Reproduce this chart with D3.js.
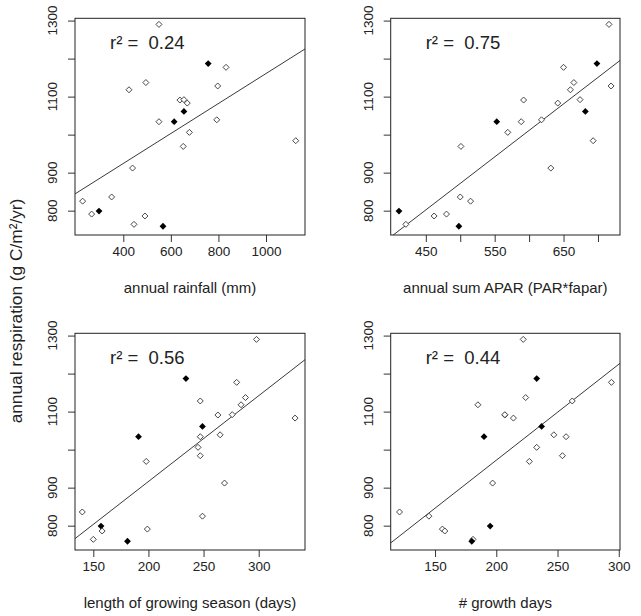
<!DOCTYPE html>
<html>
<head>
<meta charset="utf-8">
<script src="https://cdn.jsdelivr.net/npm/d3@7"></script>
<style>
  body { margin: 0; background: #fff; }
  svg text { font-family: "Liberation Sans", Arial, sans-serif; fill: #222; }
</style>
</head>
<body>
<div id="chart"></div>
<script>
let w = 641;
let h = 616;

// one value per site, same order in every array
let respiration = [825, 791, 799, 836, 1118, 912, 764, 786, 1137, 1290, 1034, 759, 1034, 1091, 969, 1092, 1061, 1083, 1006, 1187, 1039, 1128, 1177, 984];
let filled = [0, 0, 1, 0, 0, 0, 0, 0, 0, 0, 0, 1, 1, 0, 0, 0, 1, 0, 0, 1, 0, 0, 0, 0];
let rainfall = [229, 267, 298, 351, 424, 439, 445, 491, 495, 550, 550, 567, 614, 638, 652, 655, 655, 669, 678, 757, 793, 797, 832, 1125];
let apar = [515, 480, 411, 500, 660, 631.5, 421, 462, 665, 716, 588.5, 498, 553, 592, 501, 674, 681.7, 641.6, 569, 698.5, 618, 719, 650, 693];
let seasonLength = [249, 199, 157, 140, 284, 269, 150, 158, 288, 298, 247, 181, 191, 263, 198, 276, 249, 333, 245, 234, 265, 247, 280, 247];
let growthDays = [145, 156, 195, 121, 185, 197, 181, 158, 224, 222, 257, 180, 190, 207, 227, 207, 237, 214, 233, 233, 247, 262, 294, 254];

let xTitles = ["annual rainfall (mm)", "annual sum APAR (PAR*fapar)", "length of growing season (days)", "# growth days"];
let r2Labels = ["0.24", "0.75", "0.56", "0.44"];
let xTicks = [[400, 600, 800, 1000], [450, 500, 550, 600, 650, 700], [150, 200, 250, 300], [150, 200, 250, 300]];
let xTickLabels = [[400, 600, 800, 1000], [450, 550, 650], [150, 200, 250, 300], [150, 200, 250, 300]];
let yTicks = [800, 900, 1000, 1100, 1200, 1300];
let yTickLabels = [800, 900, 1100, 1300];
let yTitle = "annual respiration (g C/m²/yr)";

let xSeries = [rainfall, apar, seasonLength, growthDays];
let xDomains = [[197, 1164], [399, 732], [133.4, 342], [113.8, 301]];
let yDomain = [736, 1306];

// panel boxes
let boxes = [
  {x0: 75, x1: 305, y0: 18.3, y1: 235},
  {x0: 390.7, x1: 620, y0: 18.3, y1: 235},
  {x0: 75, x1: 305, y0: 333.3, y1: 550},
  {x0: 390.7, x1: 620, y0: 333.3, y1: 550}
];

let viz = d3.select("#chart").append("svg")
  .attr("width", w)
  .attr("height", h);

function fitLine(xs, ys){
  let mx = d3.mean(xs), my = d3.mean(ys);
  let sxy = d3.sum(xs, (x, i) => (x - mx) * (ys[i] - my));
  let sxx = d3.sum(xs, x => (x - mx) * (x - mx));
  let slope = sxy / sxx;
  return {slope: slope, intercept: my - slope * mx};
}

function diamond(r){
  return "M0," + (-r) + "L" + r + ",0L0," + r + "L" + (-r) + ",0Z";
}

boxes.forEach(function(b, p){
  let xs = xSeries[p];
  let xScale = d3.scaleLinear().domain(xDomains[p]).range([b.x0, b.x1]);
  let yScale = d3.scaleLinear().domain(yDomain).range([b.y1, b.y0]);
  let g = viz.append("g").attr("class", "panel" + p);

  g.append("clipPath").attr("id", "clip" + p)
    .append("rect")
      .attr("x", b.x0).attr("y", b.y0)
      .attr("width", b.x1 - b.x0).attr("height", b.y1 - b.y0);

  // x axis
  let xAxis = d3.axisBottom(xScale)
    .tickValues(xTicks[p])
    .tickSize(7)
    .tickPadding(4)
    .tickFormat(d => xTickLabels[p].includes(d) ? d : "");
  let xAxisGroup = g.append("g")
    .attr("transform", "translate(0," + b.y1 + ")")
    .call(xAxis);
  xAxisGroup.select(".domain").remove();
  xAxisGroup.selectAll(".tick line").attr("stroke", "#333");
  xAxisGroup.selectAll(".tick text")
    .attr("font-size", "13.5px")
    .attr("font-family", "Liberation Sans, Arial, sans-serif")
    .attr("fill", "#333");

  // y axis, labels rotated like R
  let yAxis = d3.axisLeft(yScale)
    .tickValues(yTicks)
    .tickSize(7)
    .tickFormat("");
  let yAxisGroup = g.append("g")
    .attr("transform", "translate(" + b.x0 + ",0)")
    .call(yAxis);
  yAxisGroup.select(".domain").remove();
  yAxisGroup.selectAll(".tick line").attr("stroke", "#333");
  g.selectAll(".ylab")
    .data(yTickLabels)
    .enter()
    .append("text")
      .attr("class", "ylab")
      .attr("transform", d => "translate(" + (b.x0 - 18) + "," + yScale(d) + ") rotate(-90)")
      .attr("text-anchor", "middle")
      .attr("font-size", "13.5px")
      .attr("fill", "#333")
      .text(d => d);

  // box
  g.append("rect")
    .attr("x", b.x0).attr("y", b.y0)
    .attr("width", b.x1 - b.x0).attr("height", b.y1 - b.y0)
    .attr("fill", "none")
    .attr("stroke", "#222")
    .attr("stroke-width", 1);

  // regression line
  let fit = fitLine(xs, respiration);
  let lineX = xDomains[p];
  g.append("line")
    .attr("clip-path", "url(#clip" + p + ")")
    .attr("x1", xScale(lineX[0]))
    .attr("y1", yScale(fit.intercept + fit.slope * lineX[0]))
    .attr("x2", xScale(lineX[1]))
    .attr("y2", yScale(fit.intercept + fit.slope * lineX[1]))
    .attr("stroke", "#222")
    .attr("stroke-width", 0.9);

  // points
  let pts = xs.map((x, i) => ({x: x, y: respiration[i], f: filled[i]}));
  g.selectAll(".pt")
    .data(pts)
    .enter()
    .append("path")
      .attr("class", "pt")
      .attr("transform", d => "translate(" + xScale(d.x) + "," + yScale(d.y) + ")")
      .attr("d", d => d.f ? diamond(3.4) : diamond(3))
      .attr("fill", d => d.f ? "#000" : "#fff")
      .attr("stroke", d => d.f ? "none" : "#333")
      .attr("stroke-width", 0.9);

  // r squared
  g.append("text")
    .attr("x", b.x0 + 35)
    .attr("y", b.y0 + 31)
    .attr("font-size", "18.5px")
    .attr("fill", "#111")
    .style("white-space", "pre")
    .text("r² =  " + r2Labels[p]);

  // x title
  g.append("text")
    .attr("x", (b.x0 + b.x1) / 2)
    .attr("y", b.y1 + 58)
    .attr("text-anchor", "middle")
    .attr("font-size", "15px")
    .attr("fill", "#333")
    .text(xTitles[p]);
});

viz.append("text")
  .attr("transform", "translate(22,311) rotate(-90)")
  .attr("text-anchor", "middle")
  .attr("font-size", "17.3px")
  .attr("fill", "#111")
  .text(yTitle);
</script>
</body>
</html>
